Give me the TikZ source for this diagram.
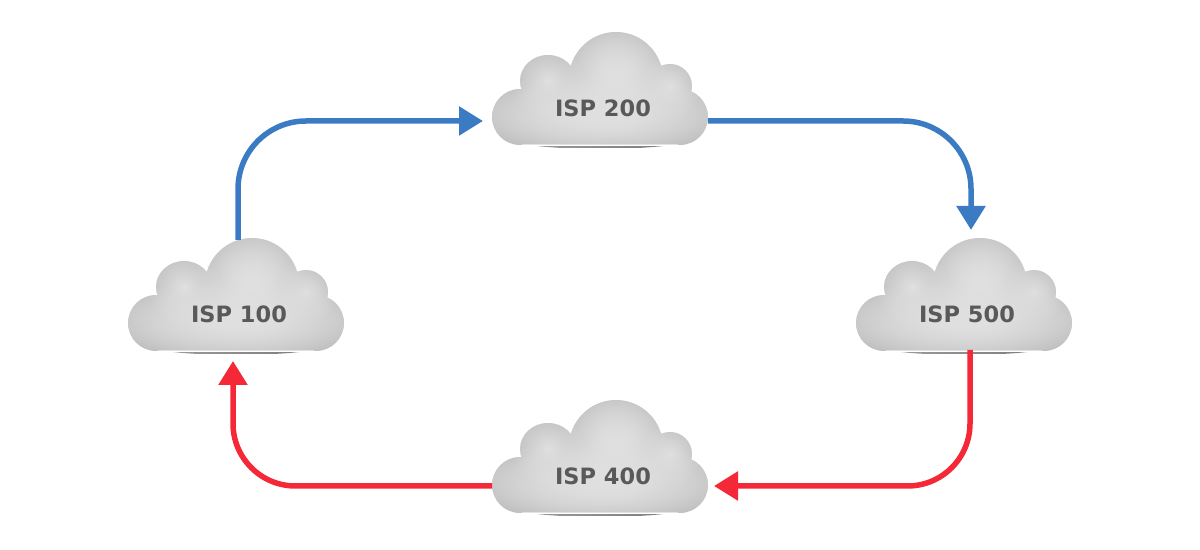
\documentclass[tikz,border=0pt]{standalone}
\usepackage{fontspec}
\setmainfont{DejaVu Sans}
\usetikzlibrary{arrows.meta, fadings}
\definecolor{FlowBlue}{HTML}{3B7BC4}
\definecolor{FlowRed} {HTML}{F42837}
\definecolor{IspText} {HTML}{595959}
\definecolor{CloudIn} {HTML}{E0E0E0}
\definecolor{CloudOut}{HTML}{BEBEBE}
\definecolor{CloudRim}{HTML}{E2E2E2}
\pgfdeclarehorizontalshading{shadowshade}{10bp}{
  color(0bp)=(white); color(28bp)=(white); color(33bp)=(black!40);
  color(67bp)=(black!50); color(72bp)=(white); color(100bp)=(white)}
\tikzfading[name=softlobe, inner color=transparent!0, outer color=transparent!100]
\newcommand{\cloudunion}{
  (16,11) circle (47) (-52,9) ellipse (28 and 26) (70,4) circle (22)
  (-80,-27) circle (28) (80,-27) circle (28)
  (-80,-55) -- (80,-55) -- (80,0) -- (-80,0) -- cycle}
\tikzset{
  every node/.style={font=\bfseries\fontsize{12.8pt}{15pt}\selectfont, text=IspText},
  flowblue/.style={draw=FlowBlue, line width=0.11cm, rounded corners=1.36cm,
                   -{Triangle[length=0.48cm, width=0.56cm]}},
  flowred/.style ={flowblue, draw=FlowRed, rounded corners=1.25cm},
  lobe/.style={fill=CloudIn, path fading=softlobe},
  pics/cloud/.style={code={
    \path[shading=shadowshade] (-86,-53) .. controls (-40,-61) and (40,-61) .. (86,-53) -- cycle;
    \fill[CloudOut] \cloudunion;
    \begin{scope}
      \clip \cloudunion;
      \path[lobe] (16,12) ellipse (60 and 60);
      \path[lobe] (16,12) ellipse (52 and 52);
      \path[lobe] (-52,9) ellipse (38 and 36);
      \path[lobe] (70,4) circle (32);
      \path[lobe] (0,-24) ellipse (140 and 44);
      \path[lobe] (0,-24) ellipse (128 and 38);
      \draw[CloudRim, line width=0.03cm] (-78,-54.4) -- (78,-54.4);
    \end{scope}
    \node (-label) at (3,-18.5) {#1};
  }},
}
\begin{document}
\begin{tikzpicture}[x=0.02cm, y=0.02cm]
\useasboundingbox (0,0) rectangle (1200,550);
\pic (isp100) at (236,254) {cloud={ISP 100}};
\pic (isp200) at (600,460) {cloud={ISP 200}};
\pic (isp500) at (964,254) {cloud={ISP 500}};
\pic (isp400) at (600,92)  {cloud={ISP 400}};
% connector ends
\coordinate (out100) at (238,310);
\coordinate (in200)  at (483,429);
\coordinate (out200) at (708,429);
\coordinate (in500)  at (971,320);
\coordinate (out500) at (970,200);
\coordinate (in400)  at (714,64);
\coordinate (out400) at (492,64);
\coordinate (in100)  at (233,189);
\draw[flowblue] (out100) |- (in200);
\draw[flowblue] (out200) -| (in500);
\draw[flowred]  (out500) |- (in400);
\draw[flowred]  (out400) -| (in100);
\end{tikzpicture}
\end{document}
